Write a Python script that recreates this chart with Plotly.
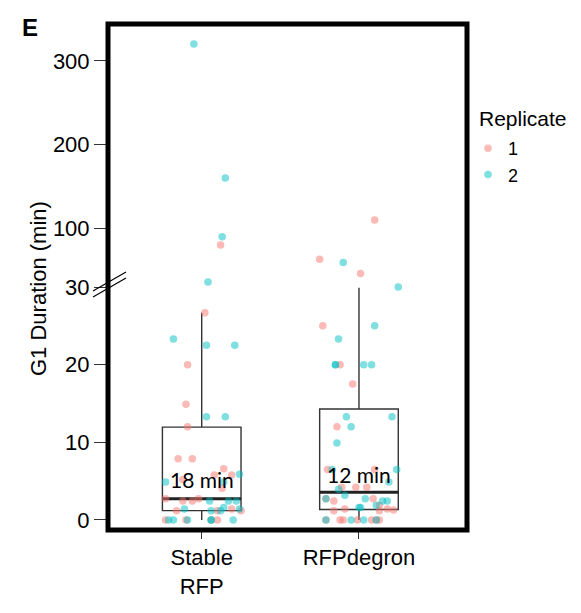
import plotly.graph_objects as go

# ---------------- data ----------------
categories = ["Stable<br>RFP", "RFPdegron"]
cat_pos = [0, 1]
rep_names = ["1", "2"]
rep_colors = ["#F8766D", "#00BFC4"]
break_value = 30

# Stable RFP, replicate 1
stable_r1_val = [80, 26.7, 20.0, 14.9, 12.0, 7.9, 7.9, 6.6, 5.8, 5.8, 5.2, 4.1,
                 2.75, 2.45, 2.45, 2.75, 1.2, 1.4, 1.2, 1.2, 0, 0, 0, 0]
stable_r1_jit = [0.12, 0.02, -0.09, -0.10, -0.09, -0.15, -0.06, 0.14, 0.08, 0.19, -0.12, 0.13,
                 -0.23, -0.12, -0.06, -0.02, -0.16, 0.19, 0.25, 0.10, -0.23, -0.10, 0.06, 0.10]
# Stable RFP, replicate 2
stable_r2_val = [320, 160, 90, 36, 23.3, 22.5, 22.5, 13.3, 13.3, 5.9, 4.9, 4.9,
                 2.45, 2.45, 2.45, 1.4, 1.2, 1.2, 1.6, 1.4, 0, 0, 0, 0, 0, 0]
stable_r2_jit = [-0.05, 0.15, 0.13, 0.04, -0.18, 0.03, 0.21, 0.03, 0.15, 0.24, -0.23, 0.14,
                 0.05, 0.17, 0.22, -0.11, 0.06, 0.12, 0.14, 0.24, -0.21, -0.18, -0.09, 0.06, 0.06, 0.20]
# RFPdegron, replicate 1
degron_r1_val = [110, 63, 46, 25.0, 20.0, 17.5, 12.0, 6.5, 6.5, 4.2, 4.2, 4.2, 2.75,
                 2.45, 2.75, 1.9, 1.2, 1.4, 1.2, 1.4, 1.3, 0, 0, 0, 0, 0, 0, 0]
degron_r1_jit = [0.10, -0.25, 0.01, -0.23, -0.12, -0.04, -0.14, -0.20, 0.10, -0.02, 0.05, -0.11, -0.21,
                 -0.16, 0.09, 0.13, -0.16, -0.09, 0.13, 0.18, 0.22, -0.21, -0.12, -0.10, -0.01, 0.08, 0.11, 0.13]
# RFPdegron, replicate 2
degron_r2_val = [59.4, 30.0, 25.0, 23.3, 20.0, 20.0, 20.0, 20.0, 13.3, 13.3, 12.0, 9.9, 6.5, 6.5,
                 4.9, 3.96, 3.2, 2.75, 2.75, 1.9, 2.45, 2.45, 1.6, 1.6, 0, 0, 0, 0]
degron_r2_jit = [-0.10, 0.25, 0.10, -0.13, -0.15, -0.15, 0.03, 0.08, -0.08, 0.21, -0.05, -0.14, -0.17, 0.24,
                 0.19, -0.13, -0.09, -0.21, 0.04, 0.11, 0.15, 0.18, 0.00, 0.01, -0.21, -0.05, 0.03, 0.11]

# box statistics
box_lower = [0, 0]
box_q1 = [1.2, 1.35]
box_median = [2.75, 3.57]
box_q3 = [11.96, 14.3]
box_upper = [26.7, 29.9]
median_labels = ["18 min", "12 min"]

lower_ticks = [0, 10, 20, 30]
upper_ticks = [100, 200, 300]

# ---------------- figure ----------------
W, H = 581, 613
ML, MR, MT, MB = 108, 114, 24, 83
PW, PH = W - ML - MR, H - MT - MB
split = (530 - 287) / PH

FONT = "Liberation Sans, Arial, sans-serif"

fig = go.Figure()

fig.add_trace(go.Box(
    x=cat_pos, q1=box_q1, median=box_median, q3=box_q3,
    lowerfence=box_lower, upperfence=box_upper,
    width=0.5, whiskerwidth=0, boxpoints=False,
    line=dict(color="#333333", width=1.4), fillcolor="rgba(255,255,255,0)",
    showlegend=False, hoverinfo="skip", xaxis="x", yaxis="y"))

# thick median lines
mx, my = [], []
for c, m in zip(cat_pos, box_median):
    mx += [c - 0.25, c + 0.25, None]
    my += [m, m, None]
fig.add_trace(go.Scatter(x=mx, y=my, mode="lines", line=dict(color="#222222", width=3),
                         showlegend=False, hoverinfo="skip", xaxis="x", yaxis="y"))

groups = [
    [(0, stable_r1_val, stable_r1_jit), (1, degron_r1_val, degron_r1_jit)],
    [(0, stable_r2_val, stable_r2_jit), (1, degron_r2_val, degron_r2_jit)],
]
for ri, grp in enumerate(groups):
    lx, ly, ux, uy = [], [], [], []
    for c, vals, jit in grp:
        for v, j in zip(vals, jit):
            if v <= break_value:
                lx.append(cat_pos[c] + j); ly.append(v)
            else:
                ux.append(cat_pos[c] + j); uy.append(v)
    mk = dict(color=rep_colors[ri], size=7.5, opacity=0.5, line=dict(width=0))
    fig.add_trace(go.Scatter(x=lx, y=ly, mode="markers", marker=mk, name=rep_names[ri],
                             cliponaxis=False, xaxis="x", yaxis="y"))
    fig.add_trace(go.Scatter(x=ux, y=uy, mode="markers", marker=mk, name=rep_names[ri],
                             showlegend=False, cliponaxis=False,
                             xaxis="x", yaxis="y2"))

for c, m, t, ys in zip(cat_pos, box_median, median_labels, [5, 3]):
    fig.add_annotation(x=c, y=m, xref="x", yref="y", text=t, showarrow=False,
                       yanchor="bottom", yshift=ys,
                       font=dict(family="Lato, sans-serif", size=21, color="black"))

def px2x(px):
    return (px - ML) / PW

def px2y(py):
    return (H - MB - py) / PH

# axis title, panel letter, legend title
fig.add_annotation(x=px2x(38), y=px2y(289), xref="paper", yref="paper", text="G1 Duration (min)",
                   textangle=-90, showarrow=False, xanchor="center", yanchor="middle",
                   font=dict(family=FONT, size=22, color="black"))
fig.add_annotation(x=px2x(30), y=px2y(28), xref="paper", yref="paper", text="<b>E</b>",
                   showarrow=False, xanchor="center", yanchor="middle",
                   font=dict(family=FONT, size=24, color="black"))
fig.add_annotation(x=px2x(477), y=px2y(118), xref="paper", yref="paper", text="Replicate",
                   showarrow=False, xanchor="left", yanchor="middle",
                   font=dict(family=FONT, size=21, color="black"))

# frame
fig.add_shape(type="rect", xref="paper", yref="paper", x0=0, x1=1, y0=0, y1=1,
              line=dict(color="black", width=5), layer="above")
# axis break marks
for (x0, y0, x1, y1) in [(93, 291, 126, 272), (93, 297, 126, 278)]:
    fig.add_shape(type="line", xref="paper", yref="paper",
                  x0=px2x(x0), y0=px2y(y0), x1=px2x(x1), y1=px2y(y1),
                  line=dict(color="black", width=1.2), layer="above")

axis_common = dict(showgrid=False, zeroline=False, showline=False, ticks="outside",
                   tickcolor="#333333", tickwidth=1.4,
                   tickfont=dict(family=FONT, size=22, color="black"))

fig.update_layout(
    width=W, height=H, margin=dict(l=ML, r=MR, t=MT, b=MB),
    plot_bgcolor="white", paper_bgcolor="white",
    xaxis=dict(range=[-0.596, 1.687], tickvals=cat_pos, ticktext=categories, ticklen=8,
               anchor="y", **axis_common),
    yaxis=dict(domain=[0, split], range=[-1.29, 30], tickvals=lower_ticks, ticklen=13,
               anchor="x", **axis_common),
    yaxis2=dict(domain=[split, 1], range=[30, 344], tickvals=upper_ticks, ticklen=13,
                anchor="x", **axis_common),
    legend=dict(x=px2x(468), y=px2y(130), xanchor="left", yanchor="top",
                font=dict(family=FONT, size=18, color="black"), bgcolor="rgba(0,0,0,0)",
                itemsizing="trace", tracegroupgap=0),
    showlegend=True,
)

fig.write_html("out.html")
